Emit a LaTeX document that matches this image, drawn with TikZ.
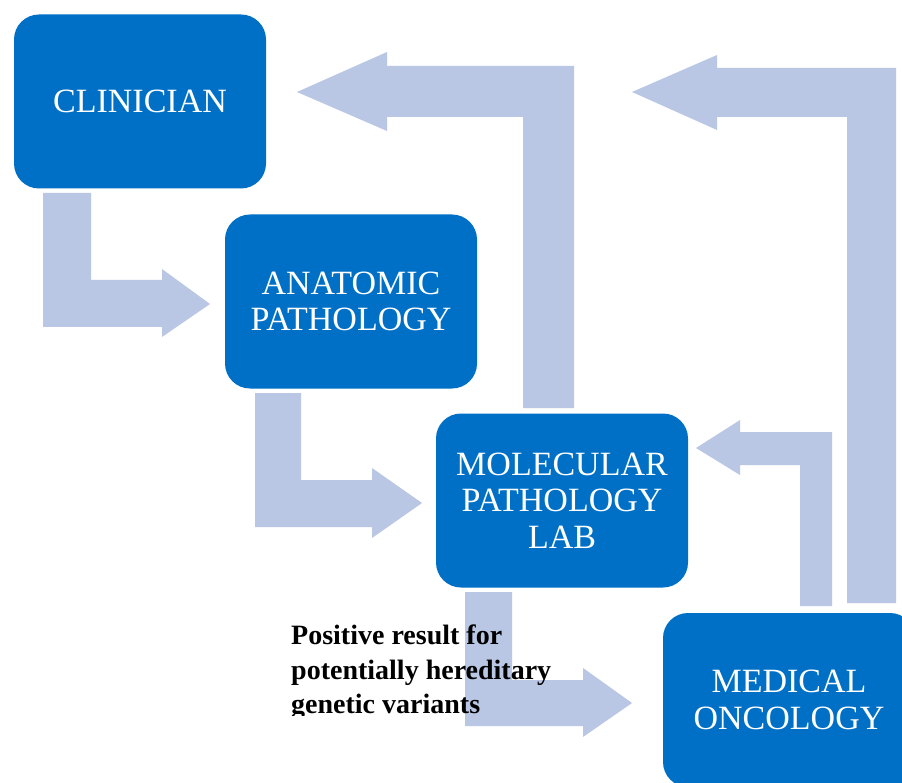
\documentclass[tikz,border=0pt]{standalone}
\usepackage{fontspec}
\setmainfont{Liberation Serif}
\definecolor{boxblue}{RGB}{0,112,198}
\definecolor{arrowblue}{RGB}{185,199,228}
\begin{document}
\begin{tikzpicture}[x=1pt,y=-1pt,
  unit/.style={draw=none, fill=boxblue, rounded corners=25pt,
    minimum width=252pt, minimum height=174pt, text=white, align=center,
    font=\fontsize{34}{36.5}\selectfont, inner sep=0pt},
  blockarrow/.style={fill=arrowblue, draw=none}]
\clip (0,0) rectangle (902,783);
\fill[white] (0,0) rectangle (902,783);

% block arrows
% Clinician -> Anatomic pathology
\fill[blockarrow] (43,193) -- (91,193) -- (91,280) -- (162,280) -- (162,269)
  -- (210,304) -- (162,337) -- (162,327) -- (43,327) -- cycle;
% Anatomic pathology -> Molecular lab
\fill[blockarrow] (255,393) -- (301,393) -- (301,480) -- (372,480) -- (372,468)
  -- (422,503) -- (372,538) -- (372,527) -- (255,527) -- cycle;
% Molecular lab -> Clinician
\fill[blockarrow] (523,408) -- (574,408) -- (574,66) -- (387,66) -- (387,52)
  -- (297,92) -- (387,131) -- (387,117) -- (523,117) -- cycle;
% Medical oncology -> Clinician
\fill[blockarrow] (847,603) -- (896,603) -- (896,68) -- (717,68) -- (717,55)
  -- (632,92) -- (717,130) -- (717,117) -- (847,117) -- cycle;
% Medical oncology -> Molecular lab
\fill[blockarrow] (800,606) -- (832,606) -- (832,432) -- (740,432) -- (740,420)
  -- (696,448) -- (740,475) -- (740,465) -- (800,465) -- cycle;
% Molecular lab -> Medical oncology
\fill[blockarrow] (465,592) -- (512,592) -- (512,680) -- (583,680) -- (583,668)
  -- (632,703) -- (583,737) -- (583,726) -- (465,726) -- cycle;

% boxes
\node[unit] (clin) at (140,101.5) {CLINICIAN};
\node[unit] (anat) at (351,301.5) {ANATOMIC\\PATHOLOGY};
\node[unit] (mol)  at (562,500.5) {MOLECULAR\\PATHOLOGY\\LAB};
\node[unit] (onc)  at (789,700) {MEDICAL\\ONCOLOGY};

% label (its last line is cut off at the bottom, as in the original)
\begin{scope}
\clip (280,600) rectangle (600,715.5);
\node[anchor=north west, inner sep=0pt, align=left,
  font=\fontsize{28}{34.5}\selectfont\bfseries] (note) at (291,625)
  {Positive result for\\potentially hereditary\\genetic variants};
\end{scope}
\end{tikzpicture}
\end{document}
